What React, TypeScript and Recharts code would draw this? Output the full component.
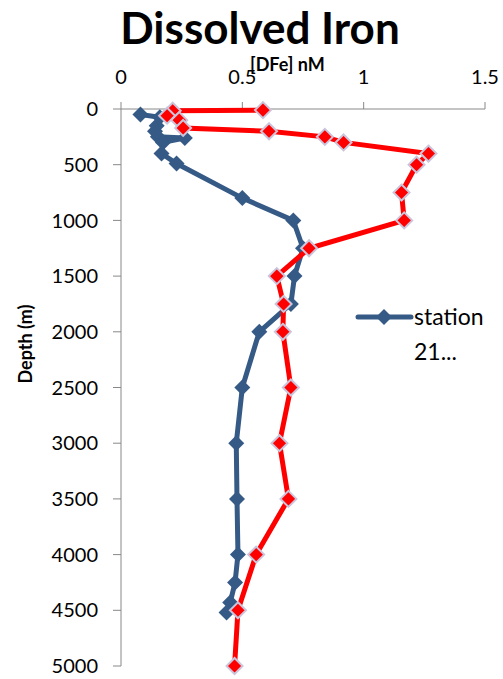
import { Legend, Scatter, ScatterChart, XAxis, YAxis } from 'recharts'

const ironTicks = [0, 0.5, 1, 1.5]
const depthTicks = [0, 500, 1000, 1500, 2000, 2500, 3000, 3500, 4000, 4500, 5000]

const station21Depth = [50, 75, 150, 200, 250, 260, 300, 400, 490, 800, 1000, 1250, 1500, 1750, 2000, 2500, 3000, 3500, 4000, 4250, 4430, 4520]
const station21Fe = [0.08, 0.16, 0.147, 0.14, 0.152, 0.263, 0.173, 0.167, 0.229, 0.5, 0.71, 0.75, 0.715, 0.7, 0.57, 0.5, 0.475, 0.478, 0.482, 0.47, 0.45, 0.435]

const otherDepth = [10, 15, 60, 100, 170, 200, 250, 300, 400, 500, 750, 1000, 1250, 1500, 1750, 2000, 2500, 3000, 3500, 4000, 4500, 5000]
const otherFe = [0.585, 0.213, 0.19, 0.24, 0.256, 0.61, 0.84, 0.917, 1.267, 1.218, 1.156, 1.167, 0.775, 0.642, 0.67, 0.667, 0.7, 0.653, 0.69, 0.557, 0.482, 0.468]

const BLUE = '#365a86'
const RED = '#ff0000'
const FONT = 'Lato, "Open Sans", sans-serif'

const station21 = station21Depth.map((depth, i) => ({ depth, fe: station21Fe[i] }))
const other = otherDepth.map((depth, i) => ({ depth, fe: otherFe[i] }))

function Diamond({ cx, cy, fill, stroke, r }: any) {
  if (cx == null || cy == null) return null
  return (
    <path
      d={`M${cx},${cy - r}L${cx + r},${cy}L${cx},${cy + r}L${cx - r},${cy}Z`}
      fill={fill}
      stroke={stroke}
      strokeWidth={stroke ? 2 : 0}
    />
  )
}

function StationLegend() {
  return (
    <svg width={140} height={60} style={{ overflow: 'visible' }}>
      <line x1={2} y1={10} x2={55} y2={10} stroke={BLUE} strokeWidth={5} strokeLinecap="round" />
      <Diamond cx={28} cy={10} r={8} fill={BLUE} />
      <text x={58} y={18} fontSize={23} fontFamily={FONT} fill="#000">station</text>
      <text x={58} y={53} fontSize={23} fontFamily={FONT} fill="#000">21...</text>
    </svg>
  )
}

export default function App() {
  return (
    <div style={{ position: 'fixed', left: 0, top: 0, width: 503, height: 679, background: '#fff' }}>
      <div
        style={{
          position: 'absolute', left: 0, width: 520, top: 3, textAlign: 'center',
          fontFamily: FONT, fontWeight: 700, fontSize: 44, color: '#000', lineHeight: '48px',
        }}
      >
        Dissolved Iron
      </div>
      <div
        style={{
          position: 'absolute', left: 250, top: 54, fontFamily: FONT, fontWeight: 700,
          fontSize: 18, color: '#000', lineHeight: '20px',
        }}
      >
        [DFe] nM
      </div>
      <div
        style={{
          position: 'absolute', left: 25, top: 344, transform: 'translate(-50%, -50%) rotate(-90deg)',
          fontFamily: FONT, fontWeight: 700, fontSize: 18, color: '#000', whiteSpace: 'nowrap',
        }}
      >
        Depth (m)
      </div>
      <ScatterChart width={503} height={679} margin={{ top: 60, right: 18, bottom: 13, left: 8 }}>
        <XAxis
          type="number"
          dataKey="fe"
          orientation="top"
          domain={[0, 1.5]}
          ticks={ironTicks}
          height={49}
          tickSize={7}
          tickMargin={18}
          stroke="#888"
          tick={{ fill: '#000', fontSize: 20, fontFamily: FONT }}
          allowDataOverflow
        />
        <YAxis
          type="number"
          dataKey="depth"
          reversed
          domain={[0, 5000]}
          ticks={depthTicks}
          width={113}
          tickSize={8}
          tickMargin={15}
          stroke="#888"
          tick={{ fill: '#000', fontSize: 20, fontFamily: FONT }}
          interval={0}
        />
        <Legend
          layout="horizontal"
          verticalAlign="middle"
          align="center"
          wrapperStyle={{ left: 356, top: 307, width: 140 }}
          content={() => <StationLegend />}
        />
        <Scatter
          name="station 21..."
          data={station21}
          fill={BLUE}
          line={{ stroke: BLUE, strokeWidth: 5 }}
          lineJointType="linear"
          shape={(p: any) => <Diamond cx={p.cx} cy={p.cy} r={8} fill={BLUE} />}
          isAnimationActive={false}
        />
        <Scatter
          name="other"
          data={other}
          fill={RED}
          line={{ stroke: RED, strokeWidth: 5 }}
          lineJointType="linear"
          shape={(p: any) => <Diamond cx={p.cx} cy={p.cy} r={8} fill={RED} stroke="#cbc5dc" />}
          isAnimationActive={false}
          legendType="none"
        />
      </ScatterChart>
    </div>
  )
}
